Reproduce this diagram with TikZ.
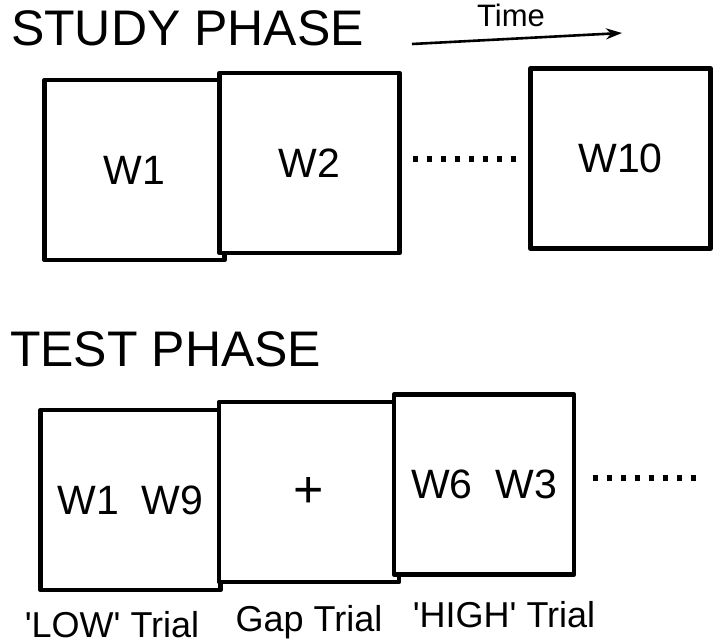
\documentclass[tikz,border=0pt]{standalone}
\usepackage{fontspec}
\setmainfont{Liberation Sans}
\usetikzlibrary{arrows.meta,positioning}
\definecolor{stimblack}{RGB}{0,0,0}

\begin{document}
\begin{tikzpicture}[x=0.5pt, y=-0.5pt,
  wordbox/.style={draw=stimblack, fill=white, line width=2.3pt, line join=round,
    minimum width=90pt, minimum height=90pt, inner sep=0pt,
    font=\fontsize{20.5}{24}\selectfont},
  phase/.style={anchor=base west, font=\fontsize{25}{30}\selectfont},
  trial/.style={anchor=base, font=\fontsize{18}{22}\selectfont},
  gapdots/.style={stimblack, line width=2.6pt, dash pattern=on 2.4pt off 4.6pt}]
\useasboundingbox (0,0) rectangle (720,644);

% Study phase
\node[phase] (study) at (4,45) {STUDY PHASE};
\node[font=\fontsize{15.5}{18}\selectfont] (time) at (511,15) {Time};
\coordinate (tstart) at (412,44);
\coordinate (tend) at (622,33);
\draw[stimblack, line width=1.3pt, -{Stealth[length=8pt,width=5.5pt]}] (tstart) -- (tend);

\node[wordbox] (w1) at (134.5,170) {W1};
\node[wordbox] (w2) at (309.5,163) {W2};
\node[wordbox] (w10) at (620.5,158.5) {W10};
\coordinate (sdots1) at (413,159);
\coordinate (sdots2) at (517,159);
\draw[gapdots] (sdots1) -- (sdots2);

% Test phase
\node[phase] (test) at (3,366) {TEST PHASE};
\node[wordbox] (low) at (130.5,500) {W1~~W9};
\node[wordbox, font=\fontsize{26}{30}\selectfont] (gap) at (309,492) {+};
\node[wordbox] (high) at (484,484.5) {W6~~W3};
\coordinate (tdots1) at (593,478);
\coordinate (tdots2) at (697,478);
\draw[gapdots] (tdots1) -- (tdots2);

% Trial names
\node[trial] (lowlab) at (112,637) {\textquotesingle LOW\textquotesingle{} Trial};
\node[trial] (gaplab) at (309,631) {Gap Trial};
\node[trial] (highlab) at (504,627) {\textquotesingle HIGH\textquotesingle{} Trial};
\end{tikzpicture}
\end{document}
